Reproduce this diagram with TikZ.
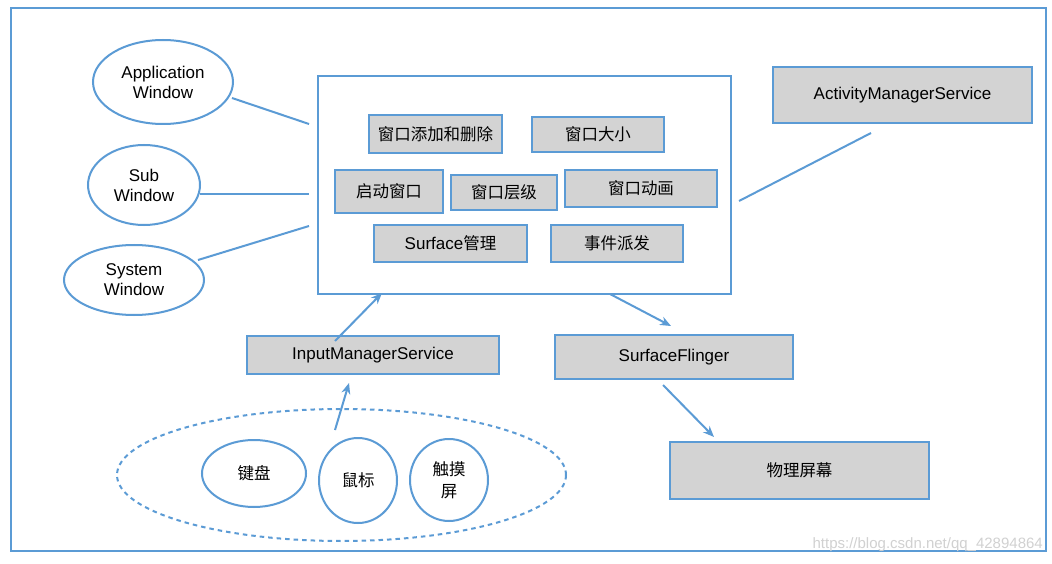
\documentclass[tikz,border=0pt]{standalone}
\usepackage{fontspec}
\setmainfont{Liberation Sans}
\newfontfamily\cjk[Scale=0.97]{Noto Sans CJK SC}
\usetikzlibrary{shapes.geometric,arrows.meta}
\definecolor{lineblue}{HTML}{5B9BD5}
\definecolor{boxgray}{HTML}{D3D3D3}
\newcommand\myfs{\fontsize{17}{20}\selectfont}
\tikzset{
  box/.style={draw=lineblue, line width=2pt, fill=boxgray, inner sep=0pt, font=\myfs},
  oval/.style={draw=lineblue, line width=2pt, ellipse, inner sep=0pt, align=center, font=\myfs},
  link/.style={draw=lineblue, line width=2pt},
  arr/.style={link, -{Stealth[length=11pt,width=9pt]}},
}
\begin{document}
\begin{tikzpicture}[x=1pt,y=-1pt]
\useasboundingbox (0,0) rectangle (1052,564);
\fill[white] (0,0) rectangle (1052,564);
\draw[draw=lineblue, line width=2.5pt] (11,8) rectangle (1046,551);

% left ellipses
\node[oval, minimum width=140pt, minimum height=84pt] (app) at (163,82) {Application\\Window};
\node[oval, minimum width=112pt, minimum height=80pt] (sub) at (144,185) {Sub\\Window};
\node[oval, minimum width=140pt, minimum height=70pt] (sys) at (134,280) {System\\Window};

% main box
\node[draw=lineblue, line width=2pt, minimum width=413pt, minimum height=218pt, inner sep=0pt] (wms) at (524.5,185) {};
\node[box, minimum width=133pt, minimum height=38pt] (add) at (435.5,134) {\cjk 窗口添加和删除};
\node[box, minimum width=132pt, minimum height=35pt] (size) at (598,134.5) {\cjk 窗口大小};
\node[box, minimum width=108pt, minimum height=43pt] (start) at (389,191.5) {\cjk 启动窗口};
\node[box, minimum width=106pt, minimum height=35pt] (layer) at (504,192.5) {\cjk 窗口层级};
\node[box, minimum width=152pt, minimum height=37pt] (anim) at (641,188.5) {\cjk 窗口动画};
\node[box, minimum width=153pt, minimum height=37pt] (surf) at (450.5,243.5) {Surface{\cjk 管理}};
\node[box, minimum width=132pt, minimum height=37pt] (event) at (617,243.5) {\cjk 事件派发};

% services
\node[box, minimum width=259pt, minimum height=56pt] (ams) at (902.5,95) {ActivityManagerService};
\node[box, minimum width=252pt, minimum height=38pt] (ims) at (373,355) {InputManagerService};
\node[box, minimum width=238pt, minimum height=44pt] (sf) at (674,357) {SurfaceFlinger};
\node[box, minimum width=259pt, minimum height=57pt] (screen) at (799.5,470.5) {\cjk 物理屏幕};

% input devices
\node[ellipse, draw=lineblue, line width=2pt, dash pattern=on 4.5pt off 4pt, minimum width=449pt, minimum height=132pt, inner sep=0pt] (grp) at (341.5,475) {};
\node[oval, minimum width=104pt, minimum height=67pt] (kb) at (254,473.5) {\cjk 键盘};
\node[oval, minimum width=78pt, minimum height=85pt] (mouse) at (358,480.5) {\cjk 鼠标};
\node[oval, minimum width=78pt, minimum height=82pt, font=\cjk\fontsize{17}{22}\selectfont] (touch) at (449,480) {触摸\\屏};

% connector end points
\coordinate (appE) at (232,98);  \coordinate (wmsA) at (309,124);
\coordinate (subE) at (200,194); \coordinate (wmsB) at (309,194);
\coordinate (sysE) at (198,260); \coordinate (wmsC) at (309,226);
\coordinate (amsS) at (871,133); \coordinate (wmsD) at (739,201);
\coordinate (imsT) at (335,341); \coordinate (wmsE) at (382,293);
\coordinate (wmsF) at (610,294); \coordinate (sfT) at (671,326);
\coordinate (sfB) at (663,385);  \coordinate (scrT) at (714,437);
\coordinate (grpT) at (335,430); \coordinate (imsB) at (349,383);

\draw[link] (appE) -- (wmsA);
\draw[link] (subE) -- (wmsB);
\draw[link] (sysE) -- (wmsC);
\draw[link] (amsS) -- (wmsD);
\draw[arr] (imsT) -- (wmsE);
\draw[arr] (wmsF) -- (sfT);
\draw[arr] (sfB) -- (scrT);
\draw[arr] (grpT) -- (imsB);

% watermark
\node[text=black!18, font=\fontsize{15}{18}\selectfont, anchor=east, inner sep=0pt] (wm) at (1043,545) {https://blog.csdn.net/qq\_42894864};
\end{tikzpicture}
\end{document}
